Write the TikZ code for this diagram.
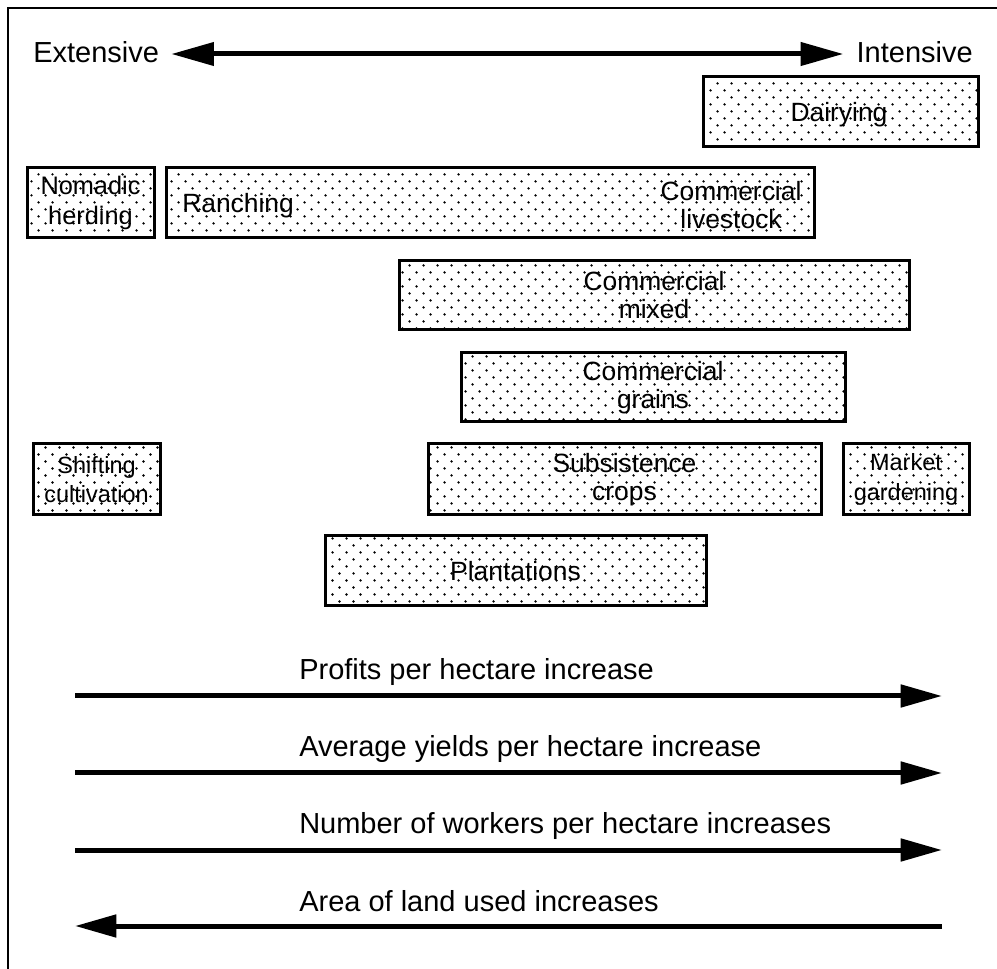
\documentclass[tikz,border=0pt]{standalone}
\usepackage{fontspec}
\setmainfont{Liberation Sans}
\usetikzlibrary{arrows.meta,patterns}
\pgfdeclarepatternformonly{stipple}{\pgfqpoint{-1pt}{-1pt}}{\pgfqpoint{11.5pt}{11.5pt}}{\pgfqpoint{10.5pt}{10.5pt}}{%
  \pgfpathcircle{\pgfqpoint{2.625pt}{2.625pt}}{0.95pt}%
  \pgfpathcircle{\pgfqpoint{7.875pt}{7.875pt}}{0.95pt}%
  \pgfusepath{fill}}
\tikzset{
  sz/.style 2 args={minimum width=#1*0.75pt, minimum height=#2*0.75pt},
  box/.style={draw, line width=2.25pt, pattern=stipple, inner sep=0pt, align=center,
    font=\fontsize{19.8}{21}\selectfont},
  boxtext/.style={inner sep=0pt, align=center, font=\fontsize{19.8}{21.5}\selectfont},
  smallbox/.style={box, font=\fontsize{17.6}{22}\selectfont},
  nomadbox/.style={box, font=\fontsize{19}{22.5}\selectfont},
  lbl/.style={inner sep=0pt, font=\fontsize{21.75}{26}\selectfont},
  fat/.style={line width=3.75pt},
  head/.style={-{Triangle[length=31pt,width=16.5pt]}},
  twohead/.style={{Triangle[length=32pt,width=17pt]}-{Triangle[length=32pt,width=17pt]}}
}
\begin{document}
\begin{tikzpicture}[x=0.75pt,y=-0.75pt]
\useasboundingbox (0,0) rectangle (997,969);
% frame (left and top edges)
\draw[line width=1.5pt] (8,969) -- (8,8) -- (997,8);

% top scale
\node[lbl, anchor=base west] (ext) at (33,63) {Extensive};
\node[lbl, anchor=base east] (int) at (973,63) {Intensive};
\draw[fat, twohead, shorten <=9pt, shorten >=9.75pt] (ext.east |- 0,54) coordinate (extend) -- (int.west |- 0,54) coordinate (intend);

% boxes
\node[box, sz={275}{70}] (dairy) at (840.5,112) {};
\node[boxtext] (dairytxt) at (839,114.5) {Dairying};
\node[nomadbox, sz={127}{70}] (nomad) at (90.5,203) {Nomadic\\herding};
\node[box, sz={648}{70}] (ranch) at (490,203) {};
\node[boxtext, anchor=base west] (ranchtxt) at (182,213) {Ranching};
\node[boxtext] (livestock) at (731,205) {Commercial\\livestock};
\node[box, sz={510}{69}] (mixed) at (654,295.5) {Commercial\\mixed};
\node[box, sz={384}{69}] (grains) at (653,387.5) {Commercial\\grains};
\node[smallbox, sz={127}{71}] (shift) at (96.5,479.5) {Shifting\\cultivation};
\node[box, sz={393}{71}] (subs) at (624.5,479.5) {Subsistence\\crops};
\node[smallbox, sz={126}{71}] (market) at (906,479.5) {Market\\gardening};
\node[box, sz={381}{70}] (plant) at (515.5,571) {Plantations};

% bottom arrows
\coordinate (a1s) at (75,696);  \coordinate (a1e) at (942,696);
\coordinate (a2s) at (75,773);  \coordinate (a2e) at (942,773);
\coordinate (a3s) at (75,850);  \coordinate (a3e) at (942,850);
\coordinate (a4s) at (942,926); \coordinate (a4e) at (75,926);
\draw[fat, head] (a1s) -- (a1e);
\draw[fat, head] (a2s) -- (a2e);
\draw[fat, head] (a3s) -- (a3e);
\draw[fat, head] (a4s) -- (a4e);
\node[lbl, anchor=base west] (l1) at (299,680) {Profits per hectare increase};
\node[lbl, anchor=base west] (l2) at (299,757) {Average yields per hectare increase};
\node[lbl, anchor=base west] (l3) at (299,834) {Number of workers per hectare increases};
\node[lbl, anchor=base west] (l4) at (299,911) {Area of land used increases};
\end{tikzpicture}
\end{document}
